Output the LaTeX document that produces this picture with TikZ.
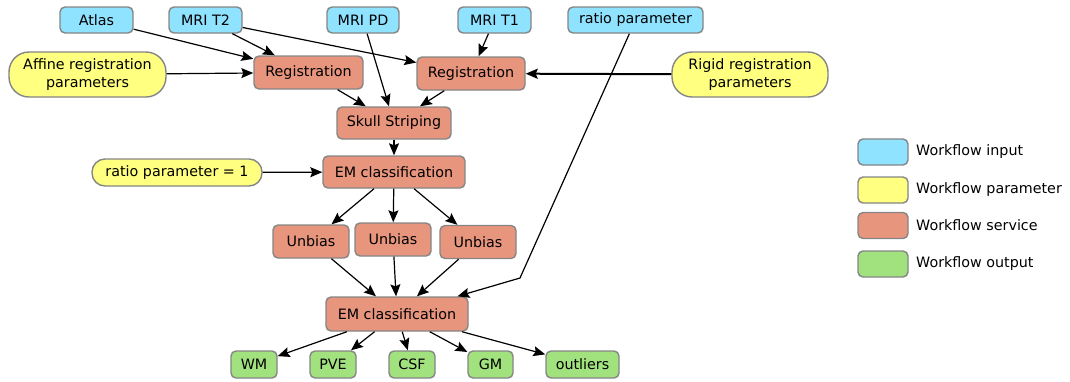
\documentclass[tikz,border=0pt]{standalone}
\usepackage{fontspec}
\setmainfont{DejaVu Sans}
\usetikzlibrary{arrows.meta}
\definecolor{cin}{HTML}{8FE3FF}
\definecolor{cpar}{HTML}{FFFF80}
\definecolor{csvc}{HTML}{E8957E}
\definecolor{cout}{HTML}{A2E27E}
\definecolor{cbord}{HTML}{858585}
\begin{document}
\begin{tikzpicture}[x=1pt,y=-1pt,
  font=\fontsize{14.3}{17.5}\selectfont,
  box/.style={draw=cbord,line width=1.4pt,rounded corners=5pt,inner sep=0pt,align=center},
  inbox/.style={box,fill=cin,minimum height=26pt},
  svcbox/.style={box,fill=csvc,minimum height=33pt},
  outbox/.style={box,fill=cout,minimum height=27pt},
  parbox/.style={box,fill=cpar,rounded corners=20pt,minimum height=45pt,minimum width=157pt},
  legbox/.style={box,minimum width=50pt,minimum height=26pt},
  conn/.style={draw=black,line width=1.2pt,-{Stealth[length=12pt,width=10pt,inset=2pt]}},
]
\useasboundingbox (0,0) rectangle (1070,381);
% inputs
\node[inbox,minimum width=73pt] (atlas) at (96.5,20) {Atlas};
\node[inbox,minimum width=73pt] (t2) at (205.5,20) {MRI T2};
\node[inbox,minimum width=72pt] (pd) at (363,20) {MRI PD};
\node[inbox,minimum width=73pt] (t1) at (494.5,20) {MRI T1};
\node[inbox,minimum width=135pt] (ratio) at (635.5,20) {ratio parameter};
% parameters
\node[parbox] (affine) at (87.5,74.5) {Affine registration\\parameters};
\node[parbox,minimum width=156pt] (rigid) at (750,74.5) {Rigid registration\\parameters};
\node[box,fill=cpar,rounded corners=13pt,minimum height=27pt,minimum width=170pt] (ratio1) at (177,172.5) {ratio parameter = 1};
% services
\node[svcbox,minimum width=109pt] (reg1) at (308.5,72.5) {Registration};
\node[svcbox,minimum width=108pt] (reg2) at (471,73.5) {Registration};
\node[svcbox,minimum width=114pt,minimum height=32pt] (skull) at (394,123) {Skull Striping};
\node[svcbox,minimum width=142pt,minimum height=32pt] (em1) at (394,172) {EM classification};
\node[svcbox,minimum width=76pt] (ub1) at (311,241.5) {Unbias};
\node[svcbox,minimum width=76pt] (ub2) at (393,239.5) {Unbias};
\node[svcbox,minimum width=76pt] (ub3) at (478,242) {Unbias};
\node[svcbox,minimum width=142pt,minimum height=34pt] (em2) at (397,314) {EM classification};
% outputs
\node[outbox,minimum width=46pt] (wm) at (254,364.5) {WM};
\node[outbox,minimum width=46pt] (pve) at (333,364.5) {PVE};
\node[outbox,minimum width=46pt] (csf) at (412,364.5) {CSF};
\node[outbox,minimum width=45pt] (gm) at (490.5,364.5) {GM};
\node[outbox,minimum width=73pt] (outl) at (582.5,364.5) {outliers};
% legend
\node[legbox,fill=cin] (l1) at (883,152) {};
\node[legbox,fill=cpar] (l2) at (883,190) {};
\node[legbox,fill=csvc] (l3) at (883,225.5) {};
\node[legbox,fill=cout] (l4) at (883,264) {};
\node[anchor=west,inner sep=0pt] (t1l) at (916,152) {Workflow input};
\node[anchor=west,inner sep=0pt] (t2l) at (916,190) {Workflow parameter};
\node[anchor=west,inner sep=0pt] (t3l) at (916,225.5) {Workflow service};
\node[anchor=west,inner sep=0pt] (t4l) at (916,264) {Workflow output};
% connectors
\draw[conn] (atlas) -- (reg1);
\draw[conn] (t2) -- (reg1);
\draw[conn] (t2) -- (reg2);
\draw[conn] (affine) -- (reg1);
\draw[conn] (pd) -- (skull);
\draw[conn] (t1) -- (reg2);
\draw[conn,line width=2pt] (rigid) -- (reg2);
\draw[conn] (reg1) -- (skull);
\draw[conn] (reg2) -- (skull);
\draw[conn] (skull) -- (em1);
\draw[conn] (ratio1) -- (em1);
\draw[conn] (em1) -- (ub1);
\draw[conn] (em1) -- (ub2);
\draw[conn] (em1) -- (ub3);
\draw[conn] (ub1) -- (em2);
\draw[conn] (ub2) -- (em2);
\draw[conn] (ub3) -- (em2);
\coordinate (bend) at (520,278);
\draw[conn] (ratio) -- (bend) -- (em2);
\draw[conn] (em2) -- (wm);
\draw[conn] (em2) -- (pve);
\draw[conn] (em2) -- (csf);
\draw[conn] (em2) -- (gm);
\draw[conn] (em2) -- (outl);
\end{tikzpicture}
\end{document}
